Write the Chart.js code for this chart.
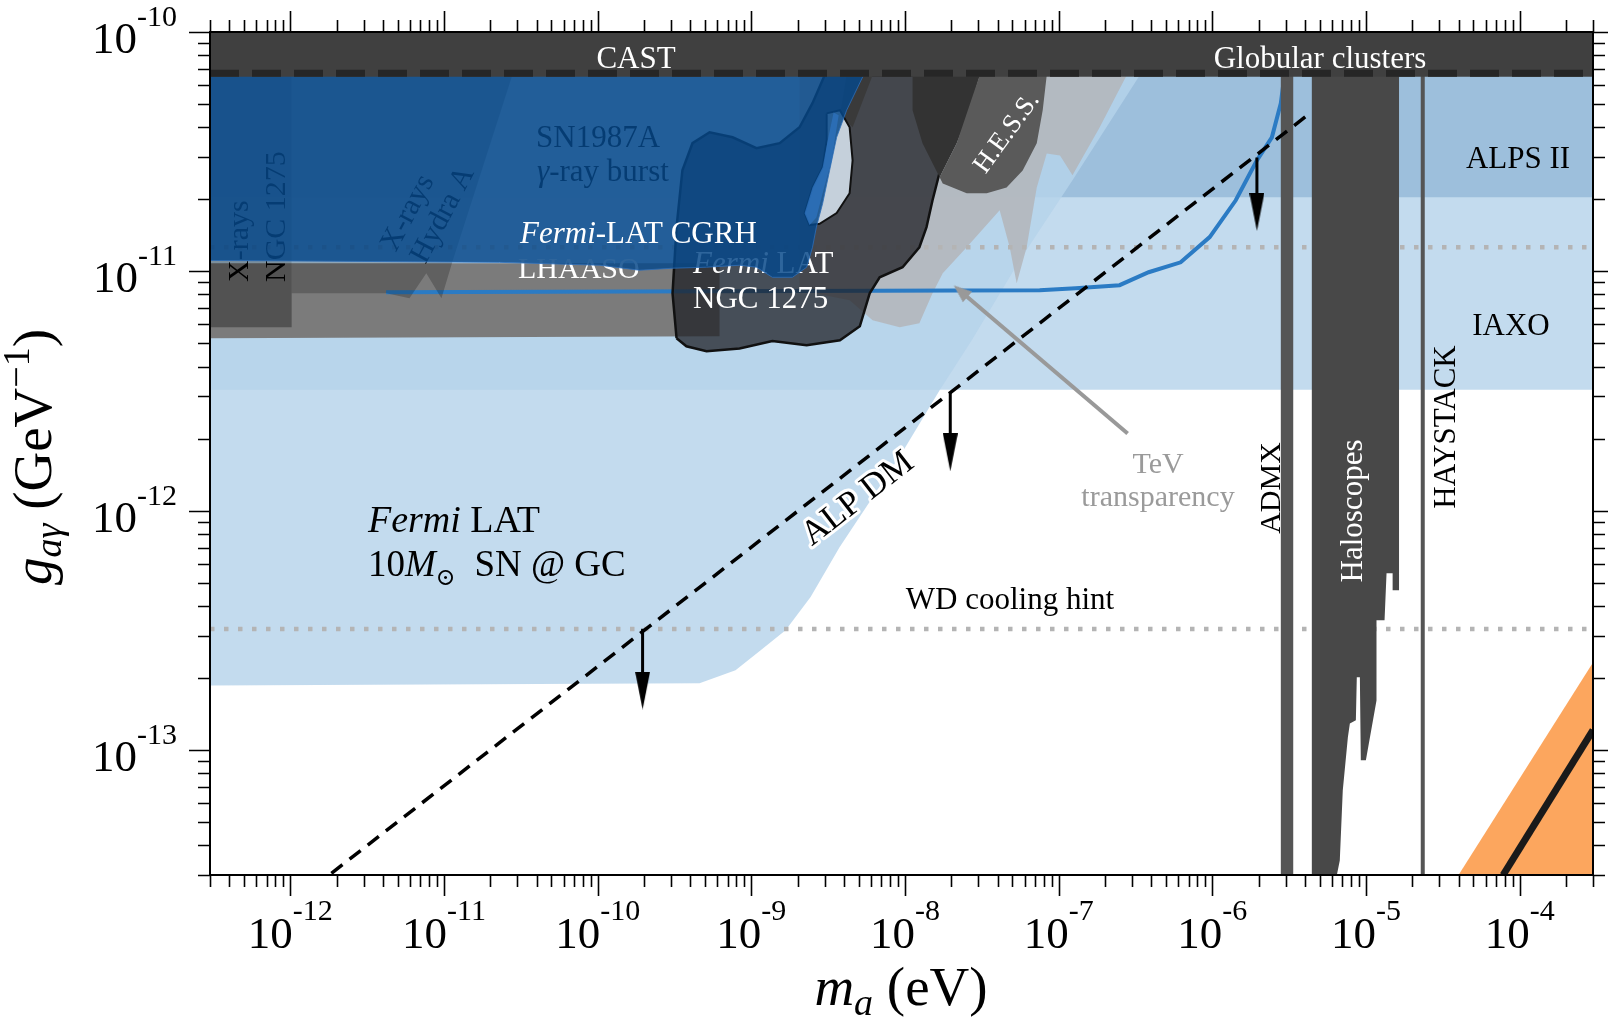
<!DOCTYPE html>
<html>
<head>
<meta charset="utf-8">
<script src="https://cdn.jsdelivr.net/npm/chart.js@4.4.1/dist/chart.umd.min.js"></script>
<style>
html,body{margin:0;padding:0;background:#ffffff;}
#wrap{width:1608px;height:1023px;position:relative;background:#fff;}
</style>
</head>
<body>
<div id="wrap"><canvas id="c" width="1608" height="1023"></canvas></div>
<script>
// ===================== DATA (m_a in eV, g in GeV^-1) =====================
const xRange = [3e-13, 3e-4];
const yRange = [3e-14, 1e-10];
const xMajorTicks = [1e-12, 1e-11, 1e-10, 1e-9, 1e-8, 1e-7, 1e-6, 1e-5, 1e-4];
const xTickExponents = ['-12', '-11', '-10', '-9', '-8', '-7', '-6', '-5', '-4'];
const yMajorTicks = [1e-13, 1e-12, 1e-11, 1e-10];
const yTickExponents = ['-13', '-12', '-11', '-10'];
const minorMultipliers = [2, 3, 4, 5, 6, 7, 8, 9];
const xDecadeBases = [1e-13, 1e-12, 1e-11, 1e-10, 1e-9, 1e-8, 1e-7, 1e-6, 1e-5, 1e-4];
const yDecadeBases = [1e-14, 1e-13, 1e-12, 1e-11, 1e-10];

const iaxoBand = [[3e-13, 3.2e-12], [3e-4, 3.2e-12], [3e-4, 6.6e-11], [3e-13, 6.6e-11]];
const alpsBand = [[3e-13, 2.04e-11], [3e-4, 2.04e-11], [3e-4, 6.6e-11], [3e-13, 6.6e-11]];
const snGcRegion = [[3e-13, 6.6e-11], [3.37e-7, 6.6e-11], [1.23e-7, 2.40e-11], [5.57e-8, 1.11e-11], [2.72e-8, 5.15e-12],
  [1.68e-8, 3.18e-12], [9.8e-9, 1.79e-12], [5.79e-9, 1.07e-12], [3.75e-9, 7.03e-13], [2.43e-9, 4.35e-13],
  [1.67e-9, 3.16e-13], [1.15e-9, 2.61e-13], [7.89e-10, 2.15e-13], [4.60e-10, 1.90e-13], [3e-13, 1.86e-13]];
const tevRegion = [[2.06e-9, 6.6e-11], [2.77e-7, 6.6e-11], [1.85e-7, 4.00e-11], [1.23e-7, 2.52e-11], [1.02e-7, 3.05e-11],
  [8.36e-8, 3.11e-11], [7.20e-8, 2.24e-11], [6.19e-8, 1.26e-11], [5.33e-8, 8.91e-12], [4.80e-8, 1.26e-11],
  [4.13e-8, 1.80e-11], [2.52e-8, 1.26e-11], [1.76e-8, 9.82e-12], [1.51e-8, 8.09e-12], [1.24e-8, 6.07e-12],
  [9.23e-9, 5.83e-12], [6.15e-9, 6.24e-12], [4.36e-9, 7.57e-12], [2.06e-9, 8.34e-12]];
const wdHintLevels = [1.26e-11, 3.2e-13];
const lhaasoRegion = [[3e-13, 1.08e-11], [6.21e-10, 1.08e-11], [6.21e-10, 5.35e-12], [3e-13, 5.25e-12]];
const fermiProjection = [[4.2e-12, 8.17e-12], [7.52e-8, 8.34e-12], [1.29e-7, 8.49e-12], [2.49e-7, 8.75e-12],
  [3.85e-7, 9.91e-12], [6.22e-7, 1.09e-11], [9.61e-7, 1.39e-11], [1.42e-6, 1.98e-11], [1.95e-6, 2.91e-11],
  [2.44e-6, 3.63e-11], [2.79e-6, 5.04e-11], [2.92e-6, 6.31e-11]];
const xrayNgcRegion = [[3e-13, 6.6e-11], [1.02e-12, 6.6e-11], [1.02e-12, 5.83e-12], [3e-13, 5.83e-12]];
const xrayHydraRegion = [[1.02e-12, 6.6e-11], [2.78e-11, 6.6e-11], [1.14e-11, 1.11e-11], [9.62e-12, 7.71e-12],
  [7.67e-12, 9.82e-12], [5.96e-12, 7.71e-12], [4.22e-12, 8.09e-12], [1.02e-12, 8.09e-12]];
const ngcFermiRegion = [[3.26e-10, 5.25e-12], [3.07e-10, 8.09e-12], [3.26e-10, 1.53e-11], [3.56e-10, 2.64e-11],
  [4.14e-10, 3.43e-11], [5.35e-10, 3.81e-11], [7.55e-10, 3.63e-11], [1.08e-9, 3.27e-11], [1.53e-9, 3.43e-11],
  [2.06e-9, 4.00e-11], [2.50e-9, 5.04e-11], [3.00e-9, 6.6e-11], [3.01e-8, 6.6e-11], [2.26e-8, 4.28e-11],
  [1.68e-8, 2.59e-11], [1.51e-8, 1.98e-11], [1.38e-8, 1.53e-11], [1.24e-8, 1.26e-11], [9.64e-9, 1.04e-11],
  [6.84e-9, 9.44e-12], [5.89e-9, 8.09e-12], [5.08e-9, 5.89e-12], [3.77e-9, 5.15e-12], [2.29e-9, 4.91e-12],
  [1.37e-9, 5.11e-12], [8.38e-10, 4.76e-12], [5.11e-10, 4.63e-12], [3.78e-10, 4.86e-12], [3.26e-10, 5.25e-12]];
const darkWedgeRegion = [[4.17e-9, 6.6e-11], [6.15e-9, 6.6e-11], [4.56e-9, 4.00e-11], [3.77e-9, 4.49e-11]];
const hessDarkRegion = [[1.12e-8, 6.6e-11], [1.12e-8, 4.71e-11], [1.30e-8, 3.43e-11], [1.68e-8, 2.47e-11],
  [2.17e-8, 3.43e-11], [2.64e-8, 4.71e-11], [3.06e-8, 6.6e-11]];
const hessRegion = [[3.06e-8, 6.6e-11], [2.17e-8, 3.43e-11], [1.68e-8, 2.47e-11], [1.76e-8, 2.33e-11],
  [2.52e-8, 2.12e-11], [3.40e-8, 2.12e-11], [4.58e-8, 2.24e-11], [5.83e-8, 2.64e-11], [7.20e-8, 3.43e-11],
  [7.87e-8, 4.71e-11], [8.36e-8, 6.6e-11]];
const ngcHoleRegion = [[3.09e-9, 4.57e-11], [3.77e-9, 4.71e-11], [4.36e-9, 4.00e-11], [4.56e-9, 2.91e-11],
  [4.36e-9, 2.12e-11], [3.59e-9, 1.75e-11], [2.78e-9, 1.58e-11], [2.39e-9, 1.56e-11], [2.22e-9, 1.75e-11],
  [2.50e-9, 2.24e-11], [2.91e-9, 2.72e-11], [3.09e-9, 3.52e-11], [3.09e-9, 4.57e-11]];
const cgrhRegion = [[3e-13, 6.6e-11], [5.37e-9, 6.6e-11], [4.17e-9, 4.71e-11], [3.59e-9, 3.63e-11], [3.23e-9, 2.64e-11],
  [2.91e-9, 1.92e-11], [2.65e-9, 1.53e-11], [2.50e-9, 1.26e-11], [2.29e-9, 1.04e-11], [1.85e-9, 9.44e-12],
  [1.37e-9, 9.44e-12], [1.08e-9, 1.04e-11], [8.38e-10, 1.06e-11], [5.11e-10, 1.04e-11], [3.07e-10, 1.03e-11],
  [1.87e-10, 1.01e-11], [1.03e-10, 1.06e-11], [2.30e-11, 1.09e-11], [3e-13, 1.11e-11]];
const cgrhLobeRegion = [[3.43e-9, 4.61e-11], [3.70e-9, 4.49e-11], [3.33e-9, 2.91e-11], [2.91e-9, 2.12e-11],
  [2.65e-9, 1.68e-11], [2.39e-9, 1.56e-11], [2.22e-9, 1.75e-11], [2.50e-9, 2.24e-11], [2.91e-9, 2.72e-11],
  [3.14e-9, 3.52e-11]];
const admxMassRange = [2.79e-6, 3.36e-6];
const haloscopeRegion = [[4.44e-6, 6.6e-11], [1.64e-5, 6.6e-11], [1.64e-5, 4.65e-13], [1.49e-5, 4.65e-13],
  [1.49e-5, 5.47e-13], [1.36e-5, 5.47e-13], [1.32e-5, 3.48e-13], [1.17e-5, 3.48e-13], [1.17e-5, 1.61e-13],
  [9.98e-6, 9.04e-14], [9.25e-6, 9.04e-14], [9.12e-6, 2.01e-13], [8.71e-6, 2.01e-13], [8.59e-6, 1.33e-13],
  [7.85e-6, 1.29e-13], [7.62e-6, 1.13e-13], [7.06e-6, 6.78e-14], [6.75e-6, 3.45e-14], [6.46e-6, 3e-14],
  [4.44e-6, 3e-14]];
const haystackMass = 2.34e-5;
const qcdBand = [[4.0e-5, 3e-14], [3e-4, 3e-14], [3e-4, 2.32e-13]];
const qcdLine = [[7.8e-5, 3e-14], [3e-4, 1.21e-13]];
const alpDmLine = [[1.85e-12, 3.05e-14], [4.31e-6, 4.57e-11]];
// [mass, arrow start g, arrow head g]
const alpDmArrows = [[1.96e-10, 3.21e-13, 1.77e-13], [1.97e-8, 3.10e-12, 1.75e-12], [1.95e-6, 2.99e-11, 1.77e-11]];
const tevArrow = [[2.81e-7, 2.10e-12], [2.30e-8, 8.26e-12]];
const castLimit = 6.5e-11;
const castDashLevel = 6.72e-11;

// ===================== helpers =====================
const pts = arr => arr.map(p => ({x: p[0], y: p[1]}));
const datasets = [];
function addPoly(name, arr, bg, extra) {
  datasets.push(Object.assign({label: name, data: pts(arr), fill: 'shape', backgroundColor: bg,
    borderWidth: 0, pointRadius: 0, showLine: true}, extra || {}));
  return datasets.length - 1;
}
function addLine(name, arr, color, width, extra) {
  datasets.push(Object.assign({label: name, data: pts(arr), fill: false, borderColor: color,
    borderWidth: width, pointRadius: 0, showLine: true}, extra || {}));
  return datasets.length - 1;
}
function arrowHead(w, h, color) {
  const c = document.createElement('canvas');
  c.width = w; c.height = h;
  const g = c.getContext('2d');
  g.fillStyle = color;
  g.beginPath(); g.moveTo(0, 0); g.lineTo(w, 0); g.lineTo(w / 2, h); g.closePath(); g.fill();
  return c;
}
const blackHead = arrowHead(15, 38, '#000');
const grayHead = arrowHead(14, 18, '#999');

// ===================== layers, bottom to top =====================
addPoly('IAXO', iaxoBand, '#c3dbee');
addPoly('ALPS II', alpsBand, '#9dbfdc');
addPoly('Fermi LAT SN', snGcRegion, 'rgba(182,211,234,0.82)');
addPoly('TeV transparency', tevRegion, 'rgba(180,183,188,0.9)');
wdHintLevels.forEach(v => addLine('WD cooling hint', [[xRange[0], v], [xRange[1], v]], '#b4b4b4', 4.5, {borderDash: [4.5, 9.5]}));
addPoly('LHAASO', lhaasoRegion, '#7b7b7b');
addLine('Fermi projection', fermiProjection, '#2b7bc4', 4);
addPoly('X-rays NGC 1275', xrayNgcRegion, 'rgba(0,0,0,0.33)');
addPoly('X-rays Hydra A', xrayHydraRegion, 'rgba(0,0,0,0.22)');
addPoly('Fermi LAT NGC 1275', ngcFermiRegion, 'rgba(30,31,36,0.74)', {borderColor: '#111', borderWidth: 2.5});
addPoly('dark', hessDarkRegion, '#333333');
addPoly('H.E.S.S.', hessRegion, '#5a5a5a');
addPoly('wedge', darkWedgeRegion, '#3a3a3a');
const HOLE_IDX = addPoly('hole', ngcHoleRegion, '#c5d0db', {borderColor: '#111', borderWidth: 2});
addPoly('Fermi-LAT CGRH', cgrhRegion, 'rgba(6,72,137,0.84)', {borderColor: 'rgba(45,110,185,0.8)', borderWidth: 1});
addPoly('CGRH lobe', cgrhLobeRegion, 'rgba(45,112,188,0.8)');
addPoly('ADMX', [[admxMassRange[0], yRange[0]], [admxMassRange[1], yRange[0]], [admxMassRange[1], 6.6e-11], [admxMassRange[0], 6.6e-11]], '#555555');
addPoly('Haloscopes', haloscopeRegion, '#484848');
addLine('HAYSTACK', [[haystackMass, yRange[0]], [haystackMass, 6.6e-11]], '#555555', 4);
addPoly('QCD band', qcdBand, '#fca65e');
addLine('QCD line', qcdLine, '#1a1a1a', 7);
addLine('ALP DM', alpDmLine, '#000', 3.5, {borderDash: [14, 9]});
alpDmArrows.forEach(a => addLine('ALP DM arrow', [[a[0], a[1]], [a[0], a[2]]], '#000', 3,
  {pointRadius: [0, 8], pointStyle: ['circle', blackHead], pointRotation: [0, 0]}));
addLine('TeV arrow', tevArrow, '#999', 4, {pointRadius: [0, 6], pointStyle: ['circle', grayHead], pointRotation: [0, 130.4]});
addPoly('CAST / Globular clusters', [[xRange[0], castLimit], [xRange[1], castLimit], [xRange[1], yRange[1]], [xRange[0], yRange[1]]], '#404040');
addLine('CAST limit', [[xRange[0], castDashLevel], [xRange[1], castDashLevel]], '#262626', 7, {borderDash: [29, 13]});

datasets.forEach((d, i) => { d.order = 1000 - i; d.tension = 0; });

// ===================== text helpers =====================
const SERIF = '"Liberation Serif", "DejaVu Serif", "Times New Roman", serif';
function fnt(s) { return (s.i ? 'italic ' : '') + s.s + 'px ' + SERIF; }
function rich(ctx, segs, x, y, align, color) {
  let w = 0;
  segs.forEach(s => { ctx.font = fnt(s); s.w = ctx.measureText(s.t).width; w += s.w; });
  let cx = align === 'center' ? x - w / 2 : (align === 'right' ? x - w : x);
  ctx.textAlign = 'left';
  segs.forEach(s => {
    ctx.font = fnt(s);
    ctx.fillStyle = s.c || color;
    ctx.fillText(s.t, cx, y + (s.dy || 0));
    cx += s.w;
  });
}
function label(ctx, text, x, y, size, color, align, rot, opts) {
  opts = opts || {};
  ctx.save();
  ctx.translate(x, y);
  if (rot) ctx.rotate(rot * Math.PI / 180);
  ctx.font = (opts.italic ? 'italic ' : '') + size + 'px ' + SERIF;
  ctx.textAlign = align || 'left';
  ctx.textBaseline = opts.baseline || 'alphabetic';
  if (opts.halo) {
    ctx.lineJoin = 'round'; ctx.strokeStyle = opts.halo; ctx.lineWidth = opts.haloWidth || 6;
    ctx.strokeText(text, 0, 0);
  }
  ctx.fillStyle = color;
  ctx.fillText(text, 0, 0);
  ctx.restore();
}

function drawUnderLabels(chart) {
  const ctx = chart.ctx;
  label(ctx, 'X-rays', 248, 282, 30, '#000', 'left', -90);
  label(ctx, 'NGC 1275', 285, 282, 30, '#000', 'left', -90);
  label(ctx, 'X-rays', 408, 213, 30, '#000', 'center', -62, {baseline: 'middle'});
  label(ctx, 'Hydra A', 443, 215, 30, '#000', 'center', -62, {baseline: 'middle'});
  label(ctx, 'SN1987A', 536, 147, 31, '#000', 'left');
  ctx.textBaseline = 'alphabetic';
  rich(ctx, [{t: 'γ', s: 31, i: true}, {t: '-ray burst', s: 31}], 537, 181, 'left', '#000');
  label(ctx, 'LHAASO', 518, 278, 30, '#fff', 'left');
  rich(ctx, [{t: 'Fermi', s: 31, i: true}, {t: ' LAT', s: 31}], 693, 273, 'left', '#fff');
  label(ctx, 'NGC 1275', 693, 308, 31, '#fff', 'left');
}

function drawTopLabels(chart) {
  const ctx = chart.ctx;
  ctx.textBaseline = 'alphabetic';
  label(ctx, 'CAST', 636, 68, 31, '#fff', 'center');
  label(ctx, 'Globular clusters', 1320, 68, 31, '#fff', 'center');
  label(ctx, 'ALPS II', 1518, 168, 31, '#000', 'center');
  label(ctx, 'IAXO', 1511, 335, 31, '#000', 'center');
  label(ctx, 'HAYSTACK', 1455, 427, 31, '#000', 'center', -90);
  label(ctx, 'ADMX', 1280, 488, 30, '#000', 'center', -90);
  label(ctx, 'Haloscopes', 1362, 511, 31, '#fff', 'center', -90);
  label(ctx, 'TeV', 1158, 473, 30, '#9a9a9a', 'center');
  label(ctx, 'transparency', 1158, 506, 30, '#9a9a9a', 'center');
  label(ctx, 'WD cooling hint', 1010, 609, 31, '#000', 'center');
  rich(ctx, [{t: 'Fermi', s: 38, i: true}, {t: ' LAT', s: 38}], 368, 532, 'left', '#000');
  rich(ctx, [{t: '10', s: 37}, {t: 'M', s: 37, i: true}, {t: '⊙', s: 24, dy: 9}, {t: '  SN @ GC', s: 37}], 368, 576, 'left', '#000');
  rich(ctx, [{t: 'Fermi', s: 31, i: true}, {t: '-LAT CGRH', s: 31}], 520, 243, 'left', '#fff');
  label(ctx, 'H.E.S.S.', 1007, 133, 27, '#fff', 'center', -54, {baseline: 'middle'});
  label(ctx, 'ALP DM', 858, 499, 35, '#000', 'center', -37.8, {baseline: 'middle', halo: '#fff', haloWidth: 6});
}

function drawFrame(chart) {
  const ctx = chart.ctx;
  const a = chart.chartArea;
  const xs = chart.scales.x, ys = chart.scales.y;
  ctx.save();
  ctx.strokeStyle = '#000';
  ctx.lineWidth = 2;
  ctx.strokeRect(a.left, a.top, a.right - a.left, a.bottom - a.top);
  ctx.lineWidth = 1.6;
  const tickX = (v, len) => {
    const X = Math.round(xs.getPixelForValue(v)) + 0.5;
    ctx.beginPath();
    ctx.moveTo(X, a.bottom); ctx.lineTo(X, a.bottom + len);
    ctx.moveTo(X, a.top); ctx.lineTo(X, a.top - len);
    ctx.stroke();
  };
  const tickY = (v, len) => {
    const Y = Math.round(ys.getPixelForValue(v)) + 0.5;
    ctx.beginPath();
    ctx.moveTo(a.left, Y); ctx.lineTo(a.left - len, Y);
    ctx.moveTo(a.right, Y); ctx.lineTo(a.right + len, Y);
    ctx.stroke();
  };
  xDecadeBases.forEach(b => minorMultipliers.forEach(m => {
    const v = b * m;
    if (v > xRange[0] * 0.999 && v < xRange[1] * 1.001) tickX(v, 12);
  }));
  yDecadeBases.forEach(b => minorMultipliers.forEach(m => {
    const v = b * m;
    if (v > yRange[0] * 0.999 && v < yRange[1] * 1.001) tickY(v, 12);
  }));
  xMajorTicks.forEach(v => tickX(v, 21));
  yMajorTicks.forEach(v => tickY(v, 21));

  // tick labels
  ctx.textBaseline = 'alphabetic';
  xMajorTicks.forEach((v, i) => {
    const X = xs.getPixelForValue(v);
    ctx.font = '45px ' + SERIF;
    const w1 = ctx.measureText('10').width;
    ctx.font = '30px ' + SERIF;
    const w2 = ctx.measureText(xTickExponents[i]).width;
    const x0 = X - (w1 + w2) / 2;
    ctx.fillStyle = '#000';
    ctx.font = '45px ' + SERIF; ctx.textAlign = 'left';
    ctx.fillText('10', x0, 948);
    ctx.font = '30px ' + SERIF;
    ctx.fillText(xTickExponents[i], x0 + w1, 920);
  });
  yMajorTicks.forEach((v, i) => {
    const Y = ys.getPixelForValue(v);
    ctx.font = '30px ' + SERIF;
    const w2 = ctx.measureText(yTickExponents[i]).width;
    ctx.fillStyle = '#000'; ctx.textAlign = 'right';
    ctx.fillText(yTickExponents[i], 177, Y - 6);
    ctx.font = '45px ' + SERIF;
    ctx.fillText('10', 177 - w2, Y + 21);
  });

  // axis titles
  rich(ctx, [{t: 'm', s: 55, i: true}, {t: 'a', s: 38, i: true, dy: 10}, {t: ' (eV)', s: 55}], 901, 1005, 'center', '#000');
  ctx.save();
  ctx.translate(51, 457);
  ctx.rotate(-Math.PI / 2);
  rich(ctx, [{t: 'g', s: 55, i: true}, {t: 'aγ', s: 38, i: true, dy: 10}, {t: ' (GeV', s: 55},
    {t: '−1', s: 38, dy: -22}, {t: ')', s: 55}], 0, 0, 'center', '#000');
  ctx.restore();
  ctx.restore();
}

const decor = {
  id: 'decor',
  afterDatasetDraw(chart, args) { if (args.index === HOLE_IDX) drawUnderLabels(chart); },
  afterDatasetsDraw(chart) { drawTopLabels(chart); },
  afterDraw(chart) { drawFrame(chart); }
};

new Chart(document.getElementById('c').getContext('2d'), {
  type: 'line',
  data: {datasets},
  options: {
    responsive: false,
    animation: false,
    devicePixelRatio: 1,
    events: [],
    layout: {padding: {left: 210, right: 15, top: 32, bottom: 148}},
    scales: {
      x: {type: 'logarithmic', min: xRange[0], max: xRange[1], display: false},
      y: {type: 'logarithmic', min: yRange[0], max: yRange[1], display: false}
    },
    plugins: {legend: {display: false}, tooltip: {enabled: false}, filler: {propagate: false}},
    elements: {line: {tension: 0}, point: {radius: 0}}
  },
  plugins: [decor]
});
</script>
</body>
</html>
